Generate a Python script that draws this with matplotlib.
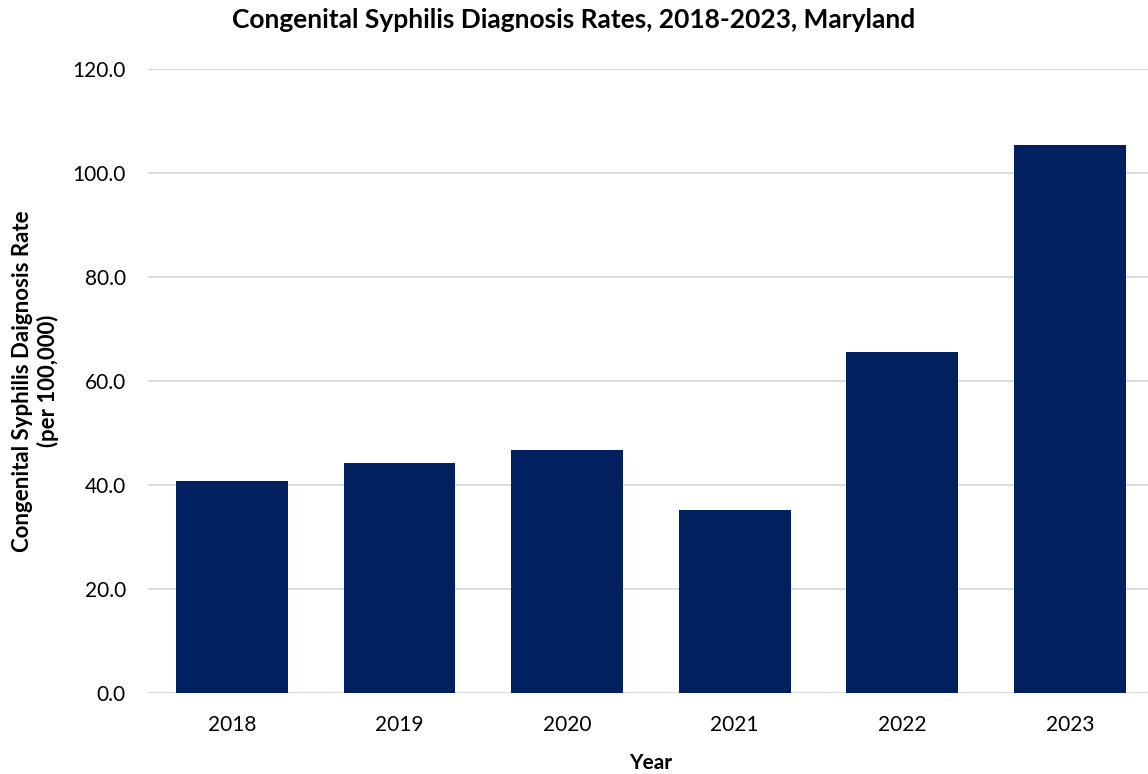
import matplotlib.pyplot as plt

years = ['2018', '2019', '2020', '2021', '2022', '2023']
rates = [40.8, 44.2, 46.7, 35.2, 65.5, 105.3]
y_ticks = [0, 20, 40, 60, 80, 100, 120]

plt.rcParams['font.family'] = ['Lato', 'DejaVu Sans']

fig = plt.figure(figsize=(11.48, 7.74), dpi=100)
ax = fig.add_axes([0.129, 0.105, 0.876, 0.806])

ax.bar(years, rates, width=0.668, color='#002060', zorder=3)

ax.set_ylim(0, 120)
ax.set_xlim(-0.5, len(years) - 0.5)
ax.set_yticks(y_ticks)
ax.set_yticklabels([f'{v:.1f}' for v in y_ticks])
ax.yaxis.grid(True, color='#D9D9D9', linewidth=1.3, zorder=0)
for s in ax.spines.values():
    s.set_visible(False)
ax.tick_params(axis='both', length=0, labelsize=15, colors='black')
ax.tick_params(axis='y', pad=16)
ax.tick_params(axis='x', pad=16)

ax.set_xlabel('Year', fontsize=15, fontweight='bold', labelpad=13)
ax.set_ylabel('Congenital Syphilis Daignosis Rate\n(per 100,000)', fontsize=16,
              fontweight='bold', labelpad=10)
fig.suptitle('Congenital Syphilis Diagnosis Rates, 2018-2023, Maryland',
             fontsize=19, fontweight='bold', x=0.5, y=0.99)

fig.savefig('out.png', dpi=100)
